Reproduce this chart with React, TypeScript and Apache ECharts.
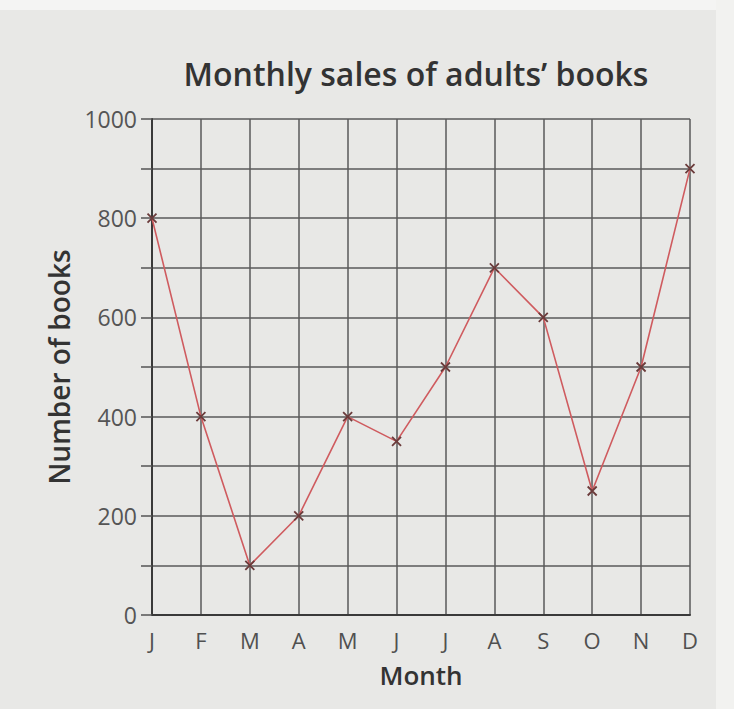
import React, { useEffect, useRef } from "react";
import * as echarts from "echarts";

const months = ["J", "F", "M", "A", "M", "J", "J", "A", "S", "O", "N", "D"];
const sales = [800, 400, 100, 200, 400, 350, 500, 700, 600, 250, 500, 900];
const yTicks = { min: 0, max: 1000, step: 100, labelEvery: 200 };

const FONT = '"Open Sans", "Noto Sans", sans-serif';

export default function App() {
  const ref = useRef<HTMLDivElement>(null);
  useEffect(() => {
    document.body.style.margin = "0";
    if (!ref.current) return;
    const chart = echarts.init(ref.current, undefined, { renderer: "svg" });
    chart.setOption({
      animation: false,
      backgroundColor: "#e8e8e6",
      graphic: [
        { type: "rect", shape: { x: 0, y: 0, width: 734, height: 10 }, style: { fill: "#f4f4f3" }, silent: true },
        { type: "rect", shape: { x: 716, y: 0, width: 18, height: 709 }, style: { fill: "#f2f2f0" }, silent: true },
      ],
      title: {
        text: "Monthly sales of adults\u2019 books",
        left: 411,
        textAlign: "center",
        top: 52,
        textStyle: { fontFamily: FONT, fontSize: 32, fontWeight: 600, color: "#333" },
      },
      grid: { left: 152, right: 44, top: 119, bottom: 94, containLabel: false },
      xAxis: {
        type: "category",
        data: months,
        boundaryGap: false,
        name: "Month",
        nameLocation: "middle",
        nameGap: 47,
        nameTextStyle: { fontFamily: FONT, fontSize: 26, fontWeight: 600, color: "#333" },
        axisLine: { lineStyle: { color: "#3a3a3a", width: 2 } },
        axisTick: { show: false },
        axisLabel: { fontFamily: FONT, fontSize: 22, color: "#505050", margin: 14 },
        splitLine: { show: true, lineStyle: { color: "#5a5a5a", width: 1.5 } },
      },
      yAxis: {
        type: "value",
        min: yTicks.min,
        max: yTicks.max,
        interval: yTicks.step,
        name: "Number of books",
        nameLocation: "middle",
        nameGap: 74,
        nameTextStyle: { fontFamily: FONT, fontSize: 28, fontWeight: 600, color: "#333" },
        axisLine: { show: true, lineStyle: { color: "#3a3a3a", width: 2 } },
        axisTick: { show: true, length: 11, lineStyle: { color: "#555", width: 1.5 } },
        axisLabel: {
          fontFamily: FONT,
          fontSize: 23,
          color: "#555",
          margin: 15,
          formatter: (v: number) => (v % yTicks.labelEvery === 0 ? String(v) : ""),
        },
        splitLine: { show: true, lineStyle: { color: "#5a5a5a", width: 1.5 } },
      },
      series: [
        {
          type: "line",
          data: sales,
          symbol: "path://M0,0L10,10M10,0L0,10",
          symbolSize: 9,
          showSymbol: true,
          itemStyle: { color: "rgba(0,0,0,0)", borderColor: "#6b3b3b", borderWidth: 1.8 },
          lineStyle: { color: "#cf5b5f", width: 1.6 },
          z: 5,
        },
      ],
    });
    return () => chart.dispose();
  }, []);
  return <div ref={ref} style={{ width: 734, height: 709 }} />;
}
